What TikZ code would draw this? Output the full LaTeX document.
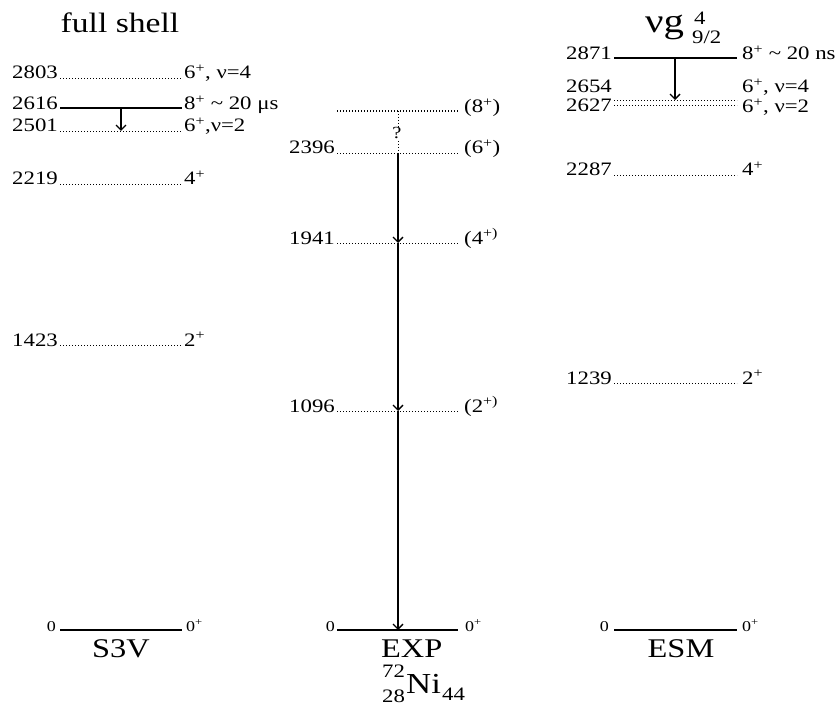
\documentclass[tikz,border=0pt]{standalone}
\usepackage{fontspec}
\setmainfont{Liberation Serif}[FakeStretch=1.2]
\usetikzlibrary{arrows.meta}
\begin{document}
\begin{tikzpicture}[x=1pt,y=-1pt,
  lab/.style={font=\fontsize{19}{22}\selectfont, inner sep=0pt},
  zlab/.style={font=\fontsize{15}{18}\selectfont, inner sep=0pt},
  ttl/.style={font=\fontsize{28}{32}\selectfont, inner sep=0pt},
  nm/.style={font=\fontsize{27}{30}\selectfont, inner sep=0pt},
  lvsolid/.style={line width=1.6pt},
  lvdot/.style={line width=0.9pt, dash pattern=on 0.9pt off 2.1pt},
  lvdense/.style={line width=1.3pt, dash pattern=on 1.3pt off 1.7pt},
  gam/.style={line width=1.5pt, -{Straight Barb[length=5pt,width=10pt,line width=1.4pt]}},
  unc/.style={line width=0.8pt, dash pattern=on 0.8pt off 2.2pt}]
\useasboundingbox (0,0) rectangle (839,706);

% ---------------- S3V (full shell) ----------------
\node[ttl, anchor=base] (tfull) at (120,33) {full shell};
\coordinate (sA) at (60,78);  \coordinate (sAr) at (182,78);
\coordinate (sB) at (60,108); \coordinate (sBr) at (182,108);
\coordinate (sC) at (60,131); \coordinate (sCr) at (182,131);
\coordinate (sD) at (60,184); \coordinate (sDr) at (182,184);
\coordinate (sE) at (60,345); \coordinate (sEr) at (182,345);
\coordinate (sF) at (60,630); \coordinate (sFr) at (182,630);
\draw[lvdot] (sA) -- (sAr);
\draw[lvsolid] (sB) -- (sBr);
\draw[lvdot] (sC) -- (sCr);
\draw[lvdot] (sD) -- (sDr);
\draw[lvdot] (sE) -- (sEr);
\draw[lvsolid] (sF) -- (sFr);
\node[lab, anchor=base east] (lsA) at (58,79) {2803};
\node[lab, anchor=base east] (lsB) at (58,110) {2616};
\node[lab, anchor=base east] (lsC) at (58,132) {2501};
\node[lab, anchor=base east] (lsD) at (58,185) {2219};
\node[lab, anchor=base east] (lsE) at (58,346) {1423};
\node[zlab, anchor=base east] (lsF) at (56,631) {0};
\node[lab, anchor=base west] (rsA) at (184,79) {6\textsuperscript{+}, ν=4};
\node[lab, anchor=base west] (rsB) at (184,110) {8\textsuperscript{+} \textasciitilde{} 20 μs};
\node[lab, anchor=base west] (rsC) at (184,132) {6\textsuperscript{+},ν=2};
\node[lab, anchor=base west] (rsD) at (184,185) {4\textsuperscript{+}};
\node[lab, anchor=base west] (rsE) at (184,346) {2\textsuperscript{+}};
\node[zlab, anchor=base west] (rsF) at (186,631) {0\textsuperscript{+}};
\coordinate (gs1) at (121,108); \coordinate (gs2) at (121,131);
\draw[gam] (gs1) -- (gs2);
\node[nm, anchor=base] (nS3V) at (121,657) {S3V};

% ---------------- EXP ----------------
\coordinate (eA) at (337,111); \coordinate (eAr) at (458,111);
\coordinate (eB) at (337,153); \coordinate (eBr) at (458,153);
\coordinate (eC) at (337,243); \coordinate (eCr) at (458,243);
\coordinate (eD) at (337,411); \coordinate (eDr) at (458,411);
\coordinate (eF) at (337,630); \coordinate (eFr) at (458,630);
\draw[lvdense] (eA) -- (eAr);
\draw[lvdot] (eB) -- (eBr);
\draw[lvdot] (eC) -- (eCr);
\draw[lvdot] (eD) -- (eDr);
\draw[lvsolid] (eF) -- (eFr);
\node[lab, anchor=base east] (leB) at (335,154) {2396};
\node[lab, anchor=base east] (leC) at (335,244) {1941};
\node[lab, anchor=base east] (leD) at (335,412) {1096};
\node[zlab, anchor=base east] (leF) at (335,631) {0};
\node[lab, anchor=base west] (reA) at (464,113) {(8\textsuperscript{+})};
\node[lab, anchor=base west] (reB) at (464,154) {(6\textsuperscript{+})};
\node[lab, anchor=base west] (reC) at (464,244) {(4\textsuperscript{+)}};
\node[lab, anchor=base west] (reD) at (464,412) {(2\textsuperscript{+)}};
\node[zlab, anchor=base west] (reF) at (465,631) {0\textsuperscript{+}};
\coordinate (ge0) at (398,111);
\coordinate (ge1) at (398,153);
\coordinate (ge2) at (398,243);
\coordinate (ge3) at (398,411);
\coordinate (ge4) at (398,630);
\draw[unc] (ge0) -- (ge1);
\node[font=\fontsize{17}{20}\selectfont, fill=white, inner sep=0.5pt] (qm) at (397,133) {?};
\draw[gam] (ge1) -- (ge2);
\draw[gam] (ge2) -- (ge3);
\draw[gam] (ge3) -- (ge4);
\node[nm, anchor=base west] (nEXP) at (381,657) {EXP};
\node[font=\fontsize{29}{32}\selectfont, inner sep=0pt, anchor=base west] (nNi) at (406,693) {Ni};
\node[lab, anchor=base west] (nA) at (382,677) {72};
\node[lab, anchor=base west] (nZ) at (382,702) {28};
\node[lab, anchor=base west] (nN) at (442,700) {44};

% ---------------- ESM (nu g9/2^4) ----------------
\node[font=\fontsize{34}{38}\selectfont, inner sep=0pt, anchor=base west] (tnu) at (645,33) {νg};
\node[lab, anchor=base west] (tsup) at (694,25) {4};
\node[lab, anchor=base west] (tsub) at (692,44) {9/2};
\coordinate (mA) at (614,58);  \coordinate (mAr) at (737,58);
\coordinate (mB) at (614,100); \coordinate (mBr) at (737,100);
\coordinate (mC) at (614,105); \coordinate (mCr) at (737,105);
\coordinate (mD) at (614,175); \coordinate (mDr) at (737,175);
\coordinate (mE) at (614,383); \coordinate (mEr) at (737,383);
\coordinate (mF) at (614,630); \coordinate (mFr) at (737,630);
\draw[lvsolid] (mA) -- (mAr);
\draw[lvdot] (mB) -- (mBr);
\draw[lvdot] (mC) -- (mCr);
\draw[lvdot] (mD) -- (mDr);
\draw[lvdot] (mE) -- (mEr);
\draw[lvsolid] (mF) -- (mFr);
\node[lab, anchor=base east] (lmA) at (612,60) {2871};
\node[lab, anchor=base east] (lmB) at (612,93) {2654};
\node[lab, anchor=base east] (lmC) at (612,112) {2627};
\node[lab, anchor=base east] (lmD) at (612,176) {2287};
\node[lab, anchor=base east] (lmE) at (612,384) {1239};
\node[zlab, anchor=base east] (lmF) at (609,631) {0};
\node[lab, anchor=base west] (rmA) at (742,60) {8\textsuperscript{+} \textasciitilde{} 20 ns};
\node[lab, anchor=base west] (rmB) at (742,93) {6\textsuperscript{+}, ν=4};
\node[lab, anchor=base west] (rmC) at (742,113) {6\textsuperscript{+}, ν=2};
\node[lab, anchor=base west] (rmD) at (742,176) {4\textsuperscript{+}};
\node[lab, anchor=base west] (rmE) at (742,384) {2\textsuperscript{+}};
\node[zlab, anchor=base west] (rmF) at (742,631) {0\textsuperscript{+}};
\coordinate (gm1) at (675,58); \coordinate (gm2) at (675,100);
\draw[gam] (gm1) -- (gm2);
\node[nm, anchor=base] (nESM) at (681,657) {ESM};
\end{tikzpicture}
\end{document}
